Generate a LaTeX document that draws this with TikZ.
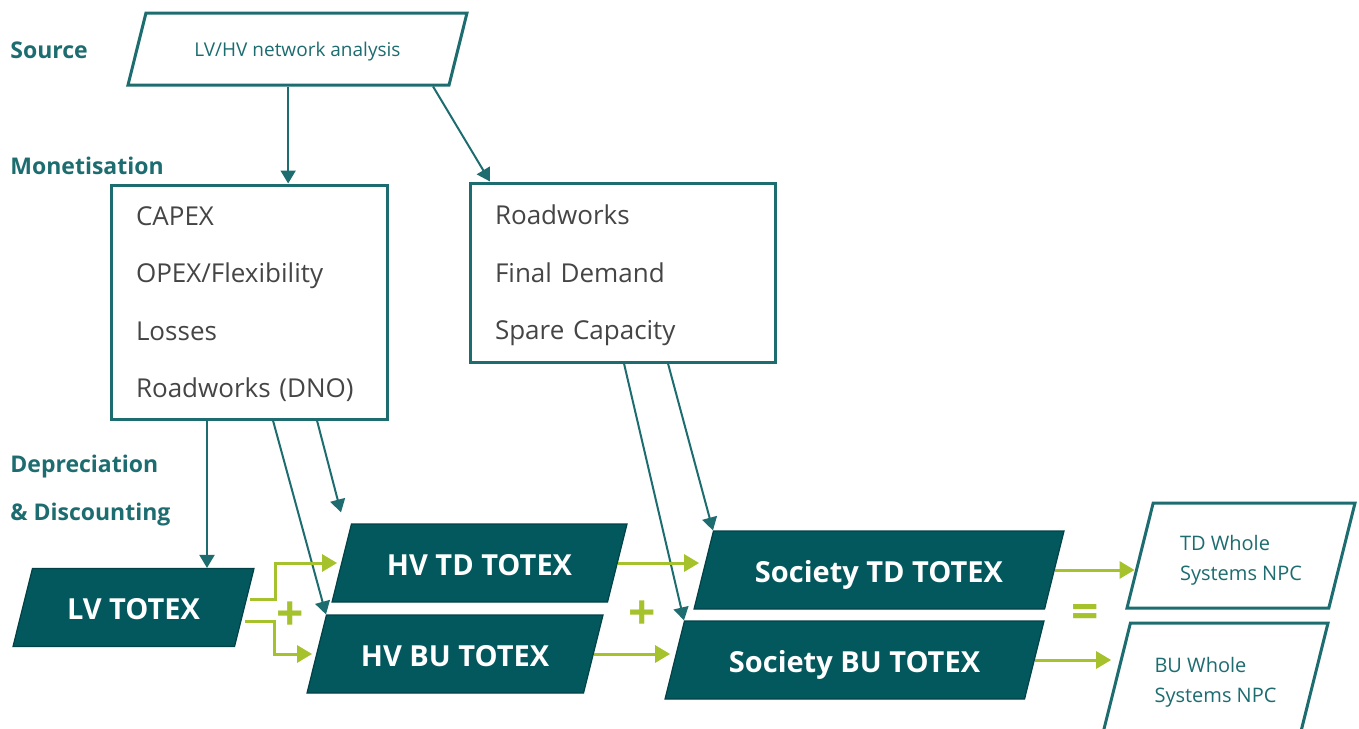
\documentclass[tikz,border=0pt]{standalone}
\usepackage{fontspec}
\setmainfont{Open Sans}
\usepackage{tikz}
\usetikzlibrary{shapes.geometric,arrows.meta,calc}
\definecolor{tealfill}{HTML}{02585D}
\definecolor{tealline}{HTML}{1C6C70}
\definecolor{greytext}{HTML}{454545}
\definecolor{lime}{HTML}{A5C12B}
\tikzset{
  para/.style={shape=trapezium, trapezium left angle=76, trapezium right angle=104,
    trapezium stretches body, inner xsep=2pt},
  darkpara/.style={para, fill=tealfill, draw=tealfill!75!black, line width=0.6pt,
    text=white, font=\fontsize{14.5}{17}\selectfont\bfseries,
    text height=12pt, text depth=0pt, inner ysep=13.5pt},
  lightpara/.style={para, fill=white, draw=tealline, line width=1.5pt, text=tealline},
  npc/.style={lightpara, align=left, font=\fontsize{10}{15}\selectfont,
    text height=24.5pt, text depth=0pt},
  listbox/.style={draw=tealline, line width=1.5pt, fill=white, text=greytext, align=left,
    inner ysep=0pt, font=\fontsize{13}{28.75}\selectfont},
  stage/.style={anchor=west, inner sep=0pt, text=tealline, font=\fontsize{11.5}{14}\selectfont\bfseries},
  feed/.style={draw=tealline, line width=1pt, -{Triangle[length=6.5pt,width=7.5pt]}},
  sumline/.style={draw=lime, line width=1.5pt, -{Triangle[length=7.5pt,width=8.5pt]}, shorten >=2pt},
  op/.style={text=lime, inner sep=0pt, font=\fontsize{24}{24}\selectfont\bfseries}
}
\begin{document}
\begin{tikzpicture}[x=0.5pt,y=-0.5pt]
  \useasboundingbox (0,0) rectangle (1359,728);

  \node[stage] (lsrc) at (10,50) {Source};
  \node[stage] (lmon) at (10,166) {Monetisation};
  \node[stage] (ldep) at (10,467) {Depreciation};
  \node[stage] (ldis) at (10,515) {\& Discounting};

  \node[lightpara, minimum width=169.5pt, text height=8pt, text depth=1pt, inner ysep=13.5pt,
    font=\fontsize{9.5}{12}\selectfont] (src) at (297.5,49) {LV/HV network analysis};

  \node[listbox, text width=113pt, inner xsep=12.5pt, minimum height=117pt, text depth=86.25pt]
    (mon) at (249,302) {CAPEX\\OPEX/Flexibility\\Losses\\Roadworks (DNO)};
  \node[listbox, text width=127.5pt, inner xsep=12.5pt, minimum height=89.5pt, text depth=57.5pt]
    (res) at (622.5,272.5) {Roadworks\\Final Demand\\Spare Capacity};

  \node[darkpara, minimum width=120.5pt] (lv) at (133.5,607.5) {LV TOTEX};
  \node[darkpara, minimum width=147.5pt] (hvtd) at (479.5,563) {HV TD TOTEX};
  \node[darkpara, minimum width=148pt] (hvbu) at (455,654) {HV BU TOTEX};
  \node[darkpara, minimum width=185pt] (sotd) at (879,570) {Society TD TOTEX};
  \node[darkpara, minimum width=189.5pt] (sobu) at (854.5,660) {Society BU TOTEX};

  \node[npc, minimum width=114pt, inner ysep=14pt] (tdnpc) at (1241,555.5) {TD Whole\\Systems NPC};
  \node[npc, minimum width=112.5pt, inner ysep=15.25pt] (bunpc) at (1215.5,678) {BU Whole\\Systems NPC};

  \node[op] (plusa) at (290,616) {+};
  \node[op] (plusb) at (642,615) {+};
  \node[op] (equal) at (1085,616) {=};

  \draw[feed] ($(src.bottom left corner)!0.5!(src.bottom right corner)$) coordinate (sdown)
    -- (sdown |- mon.north);
  \draw[feed] ($(src.bottom left corner)!0.947!(src.bottom right corner)$) -- ($(res.north)+(-132.5,0)$);
  \draw[feed] ($(mon.south)+(-42,0)$) coordinate (mdown) -- (mdown |- lv.north);
  \draw[feed] ($(mon.south)+(24,0)$) -- (hvbu.top left corner);
  \draw[feed] ($(mon.south)+(68,0)$) -- ($(hvtd.top left corner)+(-10,-11)$);
  \draw[feed] ($(res.south)+(1.5,0)$) -- (sobu.top left corner);
  \draw[feed] ($(res.south)+(45.5,0)$) -- (sotd.top left corner);

  \draw[sumline] ($(lv.east)+(5,-8)$) -- ++(26,0) |- (hvtd.west);
  \draw[sumline] ($(lv.east)+(0,14)$) -- ++(30,0) |- (hvbu.west);
  \draw[sumline] (hvtd.east) -- (hvtd.east -| sotd.west);
  \draw[sumline] (hvbu.east) -- (hvbu.east -| sobu.west);
  \draw[sumline] (sotd.east) -- (sotd.east -| tdnpc.west);
  \draw[sumline] (sobu.east) -- (sobu.east -| bunpc.west);
\end{tikzpicture}
\end{document}
